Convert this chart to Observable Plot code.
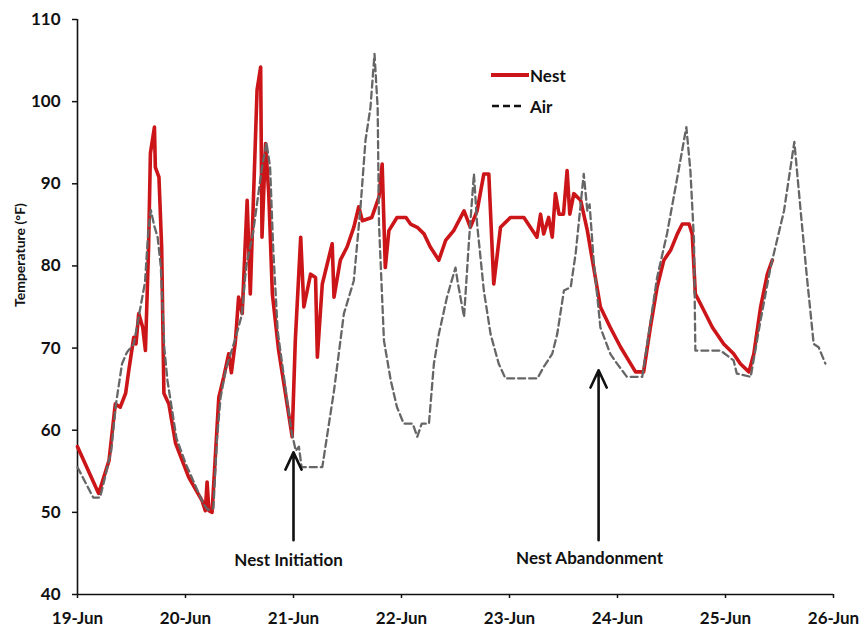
<!DOCTYPE html>
<html><head><meta charset="utf-8">
<script src="https://cdn.jsdelivr.net/npm/d3@7"></script>
<script src="https://cdn.jsdelivr.net/npm/@observablehq/plot@0.6"></script>
<style>
body{margin:0;background:#fff;}
#wrap{position:relative;width:862px;height:628px;font-family:Lato,"DejaVu Sans",sans-serif;}
.leg{position:absolute;left:491px;font:bold 17px Lato,sans-serif;display:flex;align-items:center;height:20px;color:#111;}
.leg svg{margin-right:1px;}
</style></head><body><div id="wrap"></div><script>
// hours since 19-Jun 00:00
const dayTicks = [0, 24, 48, 72, 96, 120, 144, 168];
const dayLabels = ["19-Jun", "20-Jun", "21-Jun", "22-Jun", "23-Jun", "24-Jun", "25-Jun", "26-Jun"];
const tempTicks = [40, 50, 60, 70, 80, 90, 100, 110];

const nestHours = [0, 4.7, 7, 8.4, 9.5, 10.7, 11.4, 12.5, 13.0, 13.6, 14.5, 15.1, 15.8, 16.2, 17.1, 17.3, 18.1, 18.7, 19.2, 20.3, 21.8, 24.7, 27.7, 28.4, 28.8, 29.2, 29.9, 31.4, 32.5, 33.6, 34.2, 35.1, 35.8, 36.6, 37.7, 38.4, 39.9, 40.7, 41.0, 41.8, 42.5, 43.3, 44.7, 46.2, 47.7, 48.4, 49.6, 50.3, 51.8, 52.9, 53.3, 54.4, 56.6, 57.0, 58.4, 59.9, 61.4, 62.5, 63.3, 65.4, 67.0, 67.7, 68.4, 69.2, 71.0, 73.0, 74.0, 75.5, 77.0, 78.4, 80.3, 81.8, 83.6, 85.9, 87.3, 88.8, 90.3, 91.4, 92.5, 94.0, 96.2, 99.2, 102.1, 102.9, 103.6, 104.7, 105.5, 106.2, 107.0, 108.0, 108.8, 109.4, 110.3, 111.8, 113.3, 114.7, 116.2, 118.4, 120.7, 122.9, 124.0, 125.8, 127.3, 128.8, 130.3, 131.8, 133.3, 134.4, 135.9, 136.6, 137.3, 138.8, 141.1, 143.6, 145.8, 147.3, 149.2, 150.3, 151.8, 153.3, 154.4];
const nestTemps = [58.0, 52.3, 56.3, 63.2, 62.8, 64.5, 67.3, 71.3, 70.5, 74.2, 72.5, 69.7, 82.3, 93.7, 96.9, 92.0, 90.8, 82.3, 64.5, 63.2, 58.4, 54.3, 51.4, 50.2, 53.7, 50.2, 50.0, 64.0, 66.5, 69.3, 67.0, 70.9, 76.2, 74.2, 88.0, 76.6, 101.4, 104.2, 83.5, 94.9, 88.8, 76.6, 69.7, 64.5, 59.2, 70.9, 83.5, 75.0, 79.0, 78.6, 68.9, 77.8, 82.7, 76.2, 80.7, 82.3, 84.7, 87.2, 85.5, 85.9, 88.4, 92.4, 79.8, 84.3, 85.9, 85.9, 85.1, 84.7, 83.9, 82.3, 80.7, 83.1, 84.3, 86.7, 84.7, 86.7, 91.2, 91.2, 77.8, 84.7, 85.9, 85.9, 83.5, 86.3, 83.9, 85.9, 83.5, 88.8, 86.3, 86.3, 91.6, 86.3, 88.8, 88.0, 84.3, 79.8, 75.0, 72.5, 70.1, 68.1, 67.1, 67.1, 72.5, 77.4, 80.7, 81.9, 83.9, 85.1, 85.1, 83.9, 76.6, 75.0, 72.5, 70.5, 69.3, 68.1, 67.1, 69.3, 75.0, 79.0, 80.7];

const airHours = [0, 3.5, 5, 6, 7.5, 8.5, 9.9, 11, 12.5, 14, 15, 15.7, 16.3, 17, 17.8, 18.5, 19.3, 20, 21, 22, 24, 26, 28, 29, 30.2, 31, 31.8, 33, 35, 36.5, 37.5, 39, 40, 41, 42, 42.8, 43.5, 44.5, 46, 47.5, 48.5, 49.2, 49.8, 54.4, 57.0, 59.2, 61.4, 62.9, 64.0, 65.1, 66.0, 66.7, 67.0, 68.1, 69.6, 71.0, 72.5, 74.5, 75.5, 76.5, 78.1, 79.2, 80.3, 82.1, 84.0, 84.5, 85.9, 87.0, 88.1, 88.8, 90.3, 91.8, 93.6, 95.1, 102.2, 103.6, 105.5, 106.6, 108.1, 109.6, 110.7, 112.5, 113.3, 113.8, 114.7, 116.2, 118.4, 119.9, 122.1, 125.5, 126.6, 128.8, 131.0, 133.3, 135.3, 136.2, 137.0, 137.3, 142.9, 145.8, 146.5, 149.6, 151.8, 154.0, 157.0, 159.3, 160.7, 162.1, 163.6, 164.7, 166.2];
const airTemps = [55.5, 51.8, 51.8, 54.0, 57.5, 63.0, 68.1, 69.5, 70.5, 75.0, 78.0, 84.0, 86.8, 85.0, 83.5, 80.0, 70.0, 66.0, 62.5, 59.0, 56.0, 53.5, 51.0, 50.3, 50.5, 59.0, 64.0, 67.5, 71.0, 74.0, 80.0, 84.0, 88.0, 92.0, 95.0, 92.0, 82.0, 72.0, 66.0, 60.0, 57.5, 58.0, 55.5, 55.5, 64.8, 74.2, 78.2, 87.2, 95.3, 99.3, 105.8, 99.3, 85.1, 70.9, 66.1, 62.8, 60.8, 60.8, 59.2, 60.8, 60.8, 68.1, 71.7, 76.2, 79.8, 78.0, 73.8, 83.1, 91.2, 85.1, 77.0, 71.7, 68.1, 66.3, 66.3, 67.7, 69.3, 71.7, 77.0, 77.4, 81.5, 91.2, 86.7, 87.5, 80.7, 72.5, 69.3, 68.1, 66.5, 66.5, 70.5, 78.6, 83.9, 90.8, 96.9, 91.6, 83.1, 69.7, 69.7, 68.5, 66.9, 66.5, 73.4, 79.8, 86.7, 95.1, 86.7, 78.6, 70.5, 70.1, 68.1];

const annoLabels = ["Nest Initiation", "Nest Abandonment"];
const annoTextHours = [46.9, 113.8];
const annoTextTemps = [44.1, 44.4];
const arrowHours = [48, 115.8];
const arrowBaseTemps = [46.6, 46.6];
const arrowTipTemps = [57.3, 67.3];

const nest = nestHours.map((h, i) => ({h, t: nestTemps[i]}));
const air = airHours.map((h, i) => ({h, t: airTemps[i]}));
const annos = annoLabels.map((label, i) => ({label, th: annoTextHours[i], tt: annoTextTemps[i], ah: arrowHours[i], a1: arrowBaseTemps[i], a2: arrowTipTemps[i]}));

const plot = Plot.plot({
  width: 862, height: 628,
  marginTop: 19, marginBottom: 34, marginLeft: 77, marginRight: 29,
  style: {fontFamily: "Lato, sans-serif", fontWeight: "bold", fontSize: "17px", color: "#111", background: "transparent"},
  x: {domain: [0, 168]},
  y: {domain: [40, 110]},
  marks: [
    Plot.axisX({ticks: dayTicks, tickSize: 4, tickPadding: 13, tickFormat: d => dayLabels[dayTicks.indexOf(d)], label: null, fontSize: 17, strokeWidth: 1.5}),
    Plot.axisY({ticks: tempTicks, tickSize: 5, tickPadding: 12, label: null, fontSize: 17, strokeWidth: 1.5}),
    Plot.ruleX([0], {stroke: "#111", strokeWidth: 1.6}),
    Plot.ruleY([40], {stroke: "#111", strokeWidth: 1.6}),
    Plot.text(["Temperature (°F)"], {frameAnchor: "left", dx: -57, rotate: -90, text: d => d, fontSize: 14, fontWeight: "bold"}),
    Plot.line(nest, {x: "h", y: "t", stroke: "#cc1518", strokeWidth: 3.6, strokeLinejoin: "round"}),
    Plot.line(air, {x: "h", y: "t", stroke: "#666", strokeWidth: 2.3, strokeDasharray: "7,4"}),
    Plot.arrow(annos, {x1: "ah", y1: "a1", x2: "ah", y2: "a2", stroke: "#111", strokeWidth: 2.6, headLength: 11, headAngle: 50}),
    Plot.text(annos, {x: "th", y: "tt", text: "label", fontSize: 17, fontWeight: "bold"})
  ]
});
const wrap = document.getElementById("wrap");
wrap.appendChild(plot);

const legendNames = ["Nest", "Air"];
const legendTops = [65, 96];
legendNames.forEach((name, i) => {
  const div = document.createElement("div");
  div.className = "leg";
  div.style.top = legendTops[i] + "px";
  div.innerHTML = i === 0
    ? `<svg width="38" height="20"><line x1="0" x2="38" y1="10" y2="10" stroke="#cc1518" stroke-width="4"/></svg>${name}`
    : `<svg width="38" height="20"><line x1="1" x2="32" y1="10" y2="10" stroke="#111" stroke-width="2.3" stroke-dasharray="7,4"/></svg>${name}`;
  wrap.appendChild(div);
});
</script></body></html>
